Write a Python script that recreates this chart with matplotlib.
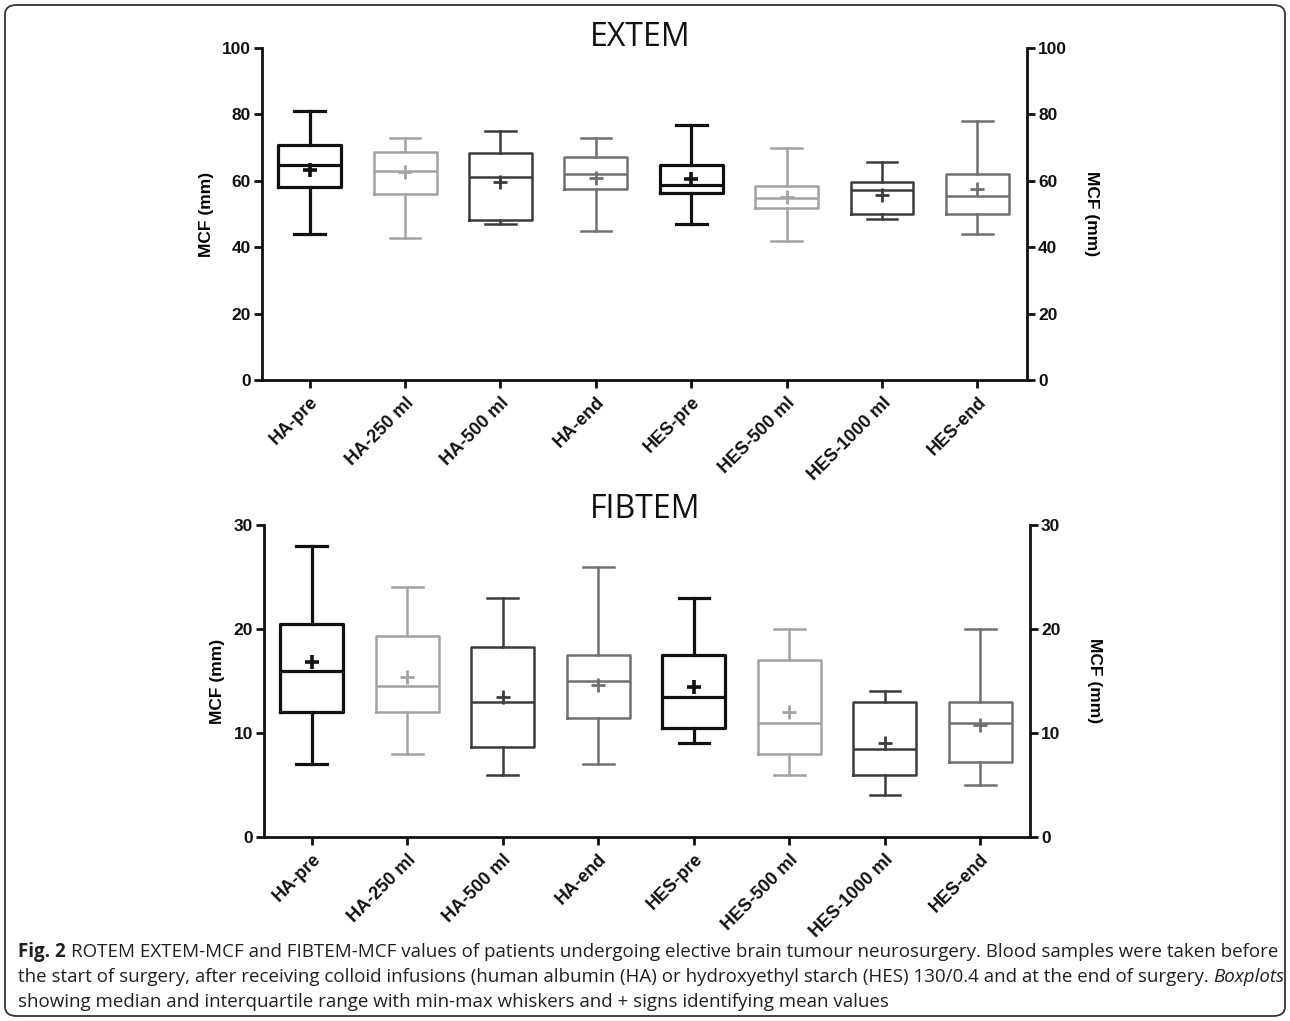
import matplotlib
matplotlib.use("Agg")
import matplotlib.pyplot as plt
from matplotlib.patches import FancyBboxPatch

categories = ["HA-pre", "HA-250 ml", "HA-500 ml", "HA-end",
              "HES-pre", "HES-500 ml", "HES-1000 ml", "HES-end"]

# EXTEM MCF (mm)
extem_min = [44.0, 42.7, 46.9, 44.9, 47.0, 41.9, 48.6, 44.0]
extem_q1 = [58.0, 56.0, 48.3, 57.4, 56.2, 51.7, 50.0, 50.0]
extem_med = [64.9, 62.9, 61.2, 62.0, 58.8, 54.9, 57.2, 55.4]
extem_q3 = [70.7, 68.7, 68.4, 67.3, 64.9, 58.4, 59.7, 62.1]
extem_max = [81.0, 72.9, 75.0, 72.9, 76.7, 69.9, 65.7, 78.0]
extem_mean = [63.4, 62.5, 59.7, 60.9, 60.4, 55.2, 55.7, 57.4]

# FIBTEM MCF (mm)
fib_min = [7.0, 8.0, 6.0, 7.0, 9.0, 6.0, 4.0, 5.0]
fib_q1 = [12.0, 12.0, 8.7, 11.4, 10.5, 8.0, 6.0, 7.2]
fib_med = [16.0, 14.5, 13.0, 15.0, 13.5, 11.0, 8.5, 11.0]
fib_q3 = [20.5, 19.3, 18.3, 17.5, 17.5, 17.0, 13.0, 13.0]
fib_max = [28.0, 24.0, 23.0, 26.0, 23.0, 20.0, 14.0, 20.0]
fib_mean = [16.8, 15.4, 13.5, 14.6, 14.4, 12.0, 9.0, 10.8]

colors = ["#111111", "#a3a3a3", "#3c3c3c", "#707070",
          "#111111", "#a3a3a3", "#3c3c3c", "#707070"]
widths_lw = [2.3, 1.8, 1.8, 1.8, 2.3, 1.8, 1.8, 1.8]

W, H = 1290, 1021
fig = plt.figure(figsize=(W / 100, H / 100), dpi=100)

TICKFONT = dict(family="Liberation Sans", weight="bold", size=12.5)
XFONT = dict(family="Liberation Sans", weight="bold", size=13)


def panel(rect, mins, q1s, meds, q3s, maxs, means, ylim, yticks, title, title_xy):
    ax = fig.add_axes(rect)
    for i in range(len(categories)):
        st = [dict(med=meds[i], q1=q1s[i], q3=q3s[i], whislo=mins[i],
                   whishi=maxs[i], mean=means[i], fliers=[], label=categories[i])]
        c = colors[i]
        lw = widths_lw[i]
        ax.bxp(st, positions=[i], widths=0.66, showmeans=True, showfliers=False,
               boxprops=dict(color=c, linewidth=lw),
               medianprops=dict(color=c, linewidth=lw),
               whiskerprops=dict(color=c, linewidth=lw),
               capprops=dict(color=c, linewidth=lw),
               capwidths=0.32,
               meanprops=dict(marker="+", markeredgecolor=c, markersize=10,
                              markeredgewidth=2.6 if lw > 2 else 2.0),
               manage_ticks=False)
    ax.set_xlim(-0.5, 7.52)
    ax.set_ylim(*ylim)
    ax.set_yticks(yticks)
    ax.set_xticks(range(len(categories)))
    ax.set_xticklabels(categories, rotation=45, ha="right", rotation_mode="anchor",
                       fontdict=XFONT)
    ax.set_yticklabels([str(t) for t in yticks], fontdict=TICKFONT)
    for s in ["left", "bottom", "right"]:
        ax.spines[s].set_linewidth(2.0)
        ax.spines[s].set_color("#111111")
    ax.spines["top"].set_visible(False)
    ax.tick_params(axis="both", direction="out", length=6, width=2.0,
                   colors="#111111", pad=2)
    ax.tick_params(axis="x", pad=4)
    ax.tick_params(axis="y", labelright=True, right=True)
    ax.set_ylabel("MCF (mm)", fontdict=TICKFONT, labelpad=6)
    axr = ax.secondary_yaxis("right")
    axr.set_yticks([])
    axr.spines["right"].set_visible(False)
    axr.set_ylabel("MCF (mm)", fontdict=TICKFONT, rotation=270, labelpad=52)
    fig.text(title_xy[0] / W, 1 - title_xy[1] / H, title, ha="center", va="center",
             fontsize=23, family="Open Sans", color="#111111")
    return ax


panel([262 / W, 1 - 380 / H, 765 / W, 332 / H], extem_min, extem_q1, extem_med,
      extem_q3, extem_max, extem_mean, (0, 100), [0, 20, 40, 60, 80, 100],
      "EXTEM", (640, 37))
panel([264 / W, 1 - 837 / H, 766 / W, 312 / H], fib_min, fib_q1, fib_med,
      fib_q3, fib_max, fib_mean, (0, 30), [0, 10, 20, 30],
      "FIBTEM", (645, 510))

# border
border = FancyBboxPatch((5 / W, 5 / H), 1280 / W, 1011 / H,
                        boxstyle="round,pad=0,rounding_size=0.009",
                        transform=fig.transFigure, fill=False,
                        edgecolor="#333333", linewidth=1.3)
fig.patches.append(border)

# caption
renderer = fig.canvas.get_renderer()
CAPF = ["Open Sans", "DejaVu Sans"]
CAPC = "#231f20"

line1 = [("Fig. 2 ", dict(weight="bold")),
         ("ROTEM EXTEM-MCF and FIBTEM-MCF values of patients undergoing elective brain tumour neurosurgery. Blood samples were taken before", {})]
line2 = [("the start of surgery, after receiving colloid infusions (human albumin (HA) or hydroxyethyl starch (HES) 130/0.4 and at the end of surgery. ", {}),
         ("Boxplots", dict(style="italic"))]
line3 = [("showing median and interquartile range with min-max whiskers and + signs identifying mean values", {})]


def measure(parts, size):
    total = 0
    for txt, kw in parts:
        t = fig.text(0, 0, txt, fontsize=size, family=CAPF, **kw)
        total += t.get_window_extent(renderer).width
        t.remove()
    return total


base = 12.0
cap_size = base * 1257 / measure(line1, base)


def run(parts, x0, y):
    x = x0
    for txt, kw in parts:
        t = fig.text(x / W, 1 - y / H, txt, ha="left", va="baseline",
                     fontsize=cap_size, family=CAPF, color=CAPC, **kw)
        x += t.get_window_extent(renderer).width


run(line1, 18, 957)
run(line2, 18, 982)
run(line3, 18, 1007)

fig.savefig("out.png", dpi=100)
